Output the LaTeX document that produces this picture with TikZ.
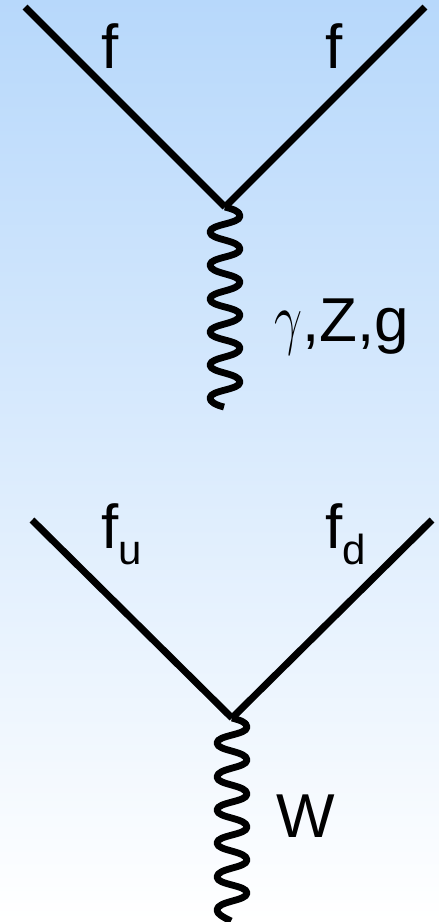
\documentclass[tikz,border=0pt]{standalone}
\usepackage{fontspec}
\usepackage{graphicx}
\setmainfont{Liberation Sans}
\tikzset{
  fermion/.style={line width=7pt,line cap=butt},
  boson/.style={line width=6.8pt,line cap=butt,line join=round},
  lbl/.style={font=\fontsize{62}{62}\selectfont,text=black,inner sep=0pt,anchor=base},
  lblw/.style={lbl,anchor=base west},
  sublbl/.style={font=\fontsize{42}{42}\selectfont,text=black,inner sep=0pt,anchor=base}
}
\definecolor{bgtop}{RGB}{183,216,251}
\definecolor{bgmid}{RGB}{224,238,253}
\begin{document}
\begin{tikzpicture}[x=1pt,y=-1pt]
\useasboundingbox (0,0) rectangle (439,922);
\shade[top color=bgtop,middle color=bgmid,bottom color=white] (0,0) rectangle (439,922);
% top diagram
\coordinate (v1) at (225,207);
\coordinate (a1) at (25,7);
\coordinate (b1) at (425,7);
\coordinate (e1) at (224,407);
\draw[fermion] (a1) -- (v1);
\draw[fermion] (b1) -- (v1);
\draw[boson] (v1) .. controls (232,209) and (240,211) .. (240,216)
  .. controls (240,224) and (210,224) .. (210,232)
  .. controls (210,240) and (240,240) .. (240,249)
  .. controls (240,257) and (210,257) .. (210,265)
  .. controls (210,274) and (240,274) .. (240,282)
  .. controls (240,291) and (210,291) .. (210,299)
  .. controls (210,307) and (240,307) .. (240,315)
  .. controls (240,324) and (210,324) .. (210,332)
  .. controls (210,340) and (240,340) .. (240,348)
  .. controls (240,357) and (210,357) .. (210,365)
  .. controls (210,373) and (240,373) .. (240,382)
  .. controls (240,390) and (210,390) .. (210,398)
  .. controls (210,402) and (216,405) .. (e1);
\node[lbl] (f1) at (110,68) {f};
\node[lbl] (f2) at (334,68) {f};
\node[lblw] (gzg) at (274,341) {\scalebox{2}[2.8]{$\gamma$},Z,g};
% bottom diagram
\coordinate (v2) at (232,718);
\coordinate (a2) at (32,520);
\coordinate (b2) at (432,520);
\coordinate (e2) at (231,921);
\draw[fermion] (a2) -- (v2);
\draw[fermion] (b2) -- (v2);
\draw[boson] (v2) .. controls (239,720) and (247,722) .. (247,727)
  .. controls (247,735) and (217,735) .. (217,743)
  .. controls (217,751) and (247,751) .. (247,760)
  .. controls (247,768) and (217,768) .. (217,777)
  .. controls (217,785) and (247,785) .. (247,794)
  .. controls (247,802) and (217,802) .. (217,810)
  .. controls (217,818) and (247,818) .. (247,827)
  .. controls (247,835) and (217,835) .. (217,843)
  .. controls (217,851) and (247,851) .. (247,860)
  .. controls (247,868) and (217,868) .. (217,877)
  .. controls (217,885) and (247,885) .. (247,893)
  .. controls (247,901) and (217,901) .. (217,910)
  .. controls (217,914) and (223,917) .. (e2);
\node[lbl] (fu) at (110,548) {f};
\node[sublbl] (u) at (130.5,564) {u};
\node[lbl] (fd) at (334,548) {f};
\node[sublbl] (d) at (354.5,564) {d};
\node[lblw] (w) at (276,837) {W};
\end{tikzpicture}
\end{document}
